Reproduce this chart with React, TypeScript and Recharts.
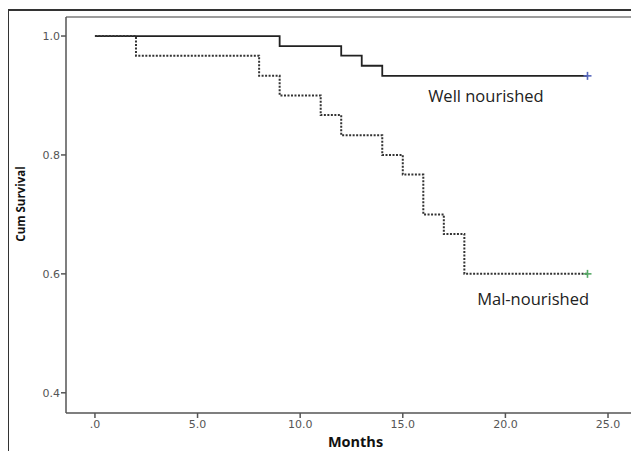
import {
  ComposedChart,
  Line,
  Scatter,
  XAxis,
  YAxis,
  ReferenceDot,
} from "recharts";

// Kaplan-Meier steps (month, cumulative survival)
const wellMonths = [0, 9, 12, 13, 14, 24];
const wellSurvival = [1.0, 0.983, 0.967, 0.95, 0.933, 0.933];
const malMonths = [0, 2, 8, 9, 11, 12, 14, 15, 16, 17, 18, 24];
const malSurvival = [1.0, 0.967, 0.933, 0.9, 0.867, 0.833, 0.8, 0.767, 0.7, 0.667, 0.6, 0.6];
const wellCensored = [{ m: 24, s: 0.933 }];
const malCensored = [{ m: 24, s: 0.6 }];
const xTicks = [0, 5, 10, 15, 20, 25];
const yTicks = [0.4, 0.6, 0.8, 1.0];

const well = wellMonths.map((m, i) => ({ m, s: wellSurvival[i] }));
const mal = malMonths.map((m, i) => ({ m, s: malSurvival[i] }));

const xDomain = [-1.41, 26.12];
const axisColor = "#555";
const tickStyle = { fontSize: 11, fill: "#555", fontFamily: "DejaVu Sans" };

function Plus(color: string) {
  return (p: any) => (
    <g stroke={color} strokeWidth={1.6}>
      <line x1={p.cx - 4} x2={p.cx + 4} y1={p.cy} y2={p.cy} />
      <line x1={p.cx} x2={p.cx} y1={p.cy - 4} y2={p.cy + 4} />
    </g>
  );
}

export default function App() {
  return (
    <div
      style={{
        position: "absolute",
        left: 0,
        top: 0,
        width: 631,
        height: 451,
        overflow: "hidden",
        background: "#fff",
      }}
    >
      <ComposedChart
        width={631}
        height={451}
        margin={{ top: 16, right: 0, bottom: 0, left: 0 }}
        style={{ position: "absolute", left: 0, top: 0 }}
      >
        {/* top edge of the plot box */}
        <XAxis
          xAxisId="top"
          orientation="top"
          type="number"
          domain={xDomain}
          allowDataOverflow
          height={1}
          tick={false}
          tickLine={false}
          axisLine={{ stroke: "#9c9c9c", strokeWidth: 2 }}
        />
        <XAxis
          dataKey="m"
          type="number"
          domain={xDomain}
          allowDataOverflow
          ticks={xTicks}
          tickFormatter={(v: number) => (v === 0 ? ".0" : v.toFixed(1))}
          height={38}
          tickSize={5}
          tickMargin={2}
          tick={tickStyle}
          axisLine={{ stroke: axisColor, strokeWidth: 1.5 }}
          tickLine={{ stroke: axisColor, strokeWidth: 1.5 }}
          label={{
            value: "Months",
            position: "insideBottom",
            offset: 4,
            dx: 7,
            style: { fontSize: 14.5, fontWeight: 700, fill: "#111", fontFamily: "Open Sans" },
          }}
        />
        <YAxis
          type="number"
          domain={[0.366, 1.032]}
          allowDataOverflow
          ticks={yTicks}
          tickFormatter={(v: number) => v.toFixed(1)}
          width={66}
          tickSize={5}
          tickMargin={1}
          tick={tickStyle}
          axisLine={{ stroke: axisColor, strokeWidth: 1.5 }}
          tickLine={{ stroke: axisColor, strokeWidth: 1.5 }}
          label={{
            value: "Cum Survival",
            angle: -90,
            position: "center",
            dx: -12,
            dy: -11,
            style: { fontSize: 11.5, fontWeight: 700, fill: "#111", fontFamily: "Open Sans", textAnchor: "middle" },
          }}
        />
        <Line
          data={well}
          dataKey="s"
          type="stepAfter"
          stroke="#222"
          strokeWidth={1.8}
          dot={false}
          isAnimationActive={false}
        />
        <Line
          data={mal}
          dataKey="s"
          type="stepAfter"
          stroke="#333"
          strokeWidth={2}
          strokeDasharray="2 1.5"
          dot={false}
          isAnimationActive={false}
        />
        <Scatter data={wellCensored} dataKey="s" shape={Plus("#5566bb")} isAnimationActive={false} />
        <Scatter data={malCensored} dataKey="s" shape={Plus("#55aa66")} isAnimationActive={false} />
        <ReferenceDot
          x={19.05}
          y={0.899}
          r={0}
          fill="none"
          stroke="none"
          label={{ value: "Well nourished", position: "center", fill: "#222", fontSize: 16.5, fontFamily: "Open Sans" }}
        />
        <ReferenceDot
          x={21.35}
          y={0.558}
          r={0}
          fill="none"
          stroke="none"
          label={{ value: "Mal-nourished", position: "center", fill: "#222", fontSize: 16.5, fontFamily: "Open Sans" }}
        />
      </ComposedChart>
      {/* outer frame */}
      <div
        style={{
          position: "absolute",
          left: 8,
          top: 9,
          width: 700,
          height: 500,
          borderLeft: "1px solid #333",
          borderTop: "2px solid #333",
          zIndex: 2,
          pointerEvents: "none",
        }}
      />
    </div>
  );
}
